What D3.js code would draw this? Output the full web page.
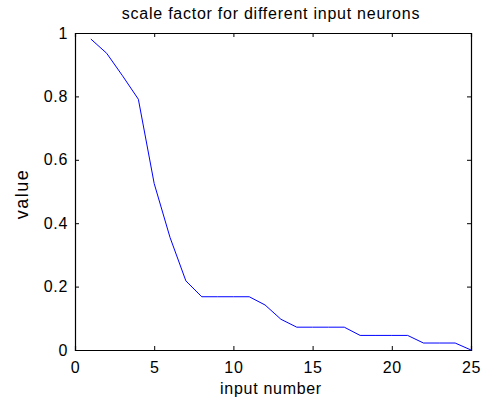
<!DOCTYPE html>
<html>
<head>
<meta charset="utf-8">
<script src="https://cdn.jsdelivr.net/npm/d3@7"></script>
<style>
  body { margin: 0; background: #fff; }
  text { font-family: "Liberation Sans", Arial, sans-serif; fill: #000; }
</style>
</head>
<body>
<script>
// input numbers and their scale factors
let inputs = d3.range(1, 26)
let values = [0.981, 0.936, 0.865, 0.791, 0.525, 0.355, 0.218, 0.168, 0.168, 0.168,
              0.168, 0.142, 0.097, 0.072, 0.072, 0.072, 0.072, 0.046, 0.046, 0.046,
              0.046, 0.022, 0.022, 0.022, 0.0]
let xTicks = [0, 5, 10, 15, 20, 25]
let yTicks = [0, 0.2, 0.4, 0.6, 0.8, 1]

let width = 485, height = 402
let mLeft = 75, mRight = 471, mTop = 33, mBottom = 350

let svg = d3.select('body').append('svg')
  .attr('width', width)
  .attr('height', height)

let scaleX = d3.scaleLinear().domain([0, 25]).range([mLeft, mRight])
let scaleY = d3.scaleLinear().domain([0, 1]).range([mBottom, mTop])

// box + ticks on all four sides (inward ticks like matlab)
let tickLen = 4
svg.append('g').attr('transform', `translate(0,${mBottom})`)
  .call(d3.axisBottom(scaleX).tickValues(xTicks).tickSize(-tickLen).tickPadding(11.5).tickFormat(d3.format('d')))
svg.append('g').attr('transform', `translate(0,${mTop})`)
  .call(d3.axisTop(scaleX).tickValues(xTicks).tickSize(-tickLen).tickFormat(''))
svg.append('g').attr('transform', `translate(${mLeft},0)`)
  .call(d3.axisLeft(scaleY).tickValues(yTicks).tickSize(-tickLen).tickPadding(7).tickFormat(d => d === 0 || d === 1 ? d : d3.format('.1f')(d)))
svg.append('g').attr('transform', `translate(${mRight},0)`)
  .call(d3.axisRight(scaleY).tickValues(yTicks).tickSize(-tickLen).tickFormat(''))

svg.selectAll('.domain').attr('stroke', '#000').attr('stroke-width', 1.2)
svg.selectAll('.tick line').attr('stroke', '#000')
svg.selectAll('.tick text')
  .style('font-size', '16px')
  .style('letter-spacing', '0.7px')

let line = d3.line()
  .x((d, i) => scaleX(inputs[i]))
  .y(d => scaleY(d))

svg.append('path')
  .datum(values)
  .attr('d', line)
  .attr('fill', 'none')
  .attr('stroke', '#0000ff')
  .attr('stroke-width', 1)

svg.append('text')
  .attr('x', 271)
  .attr('y', 18.5)
  .attr('text-anchor', 'middle')
  .style('font-size', '16px')
  .style('letter-spacing', '0.75px')
  .text('scale factor for different input neurons')

svg.append('text')
  .attr('x', 271)
  .attr('y', 394)
  .attr('text-anchor', 'middle')
  .style('font-size', '16px')
  .style('letter-spacing', '0.7px')
  .text('input number')

svg.append('text')
  .attr('transform', 'translate(28,194) rotate(-90)')
  .attr('text-anchor', 'middle')
  .style('font-size', '18px')
  .style('letter-spacing', '1.5px')
  .text('value')
</script>
</body>
</html>
